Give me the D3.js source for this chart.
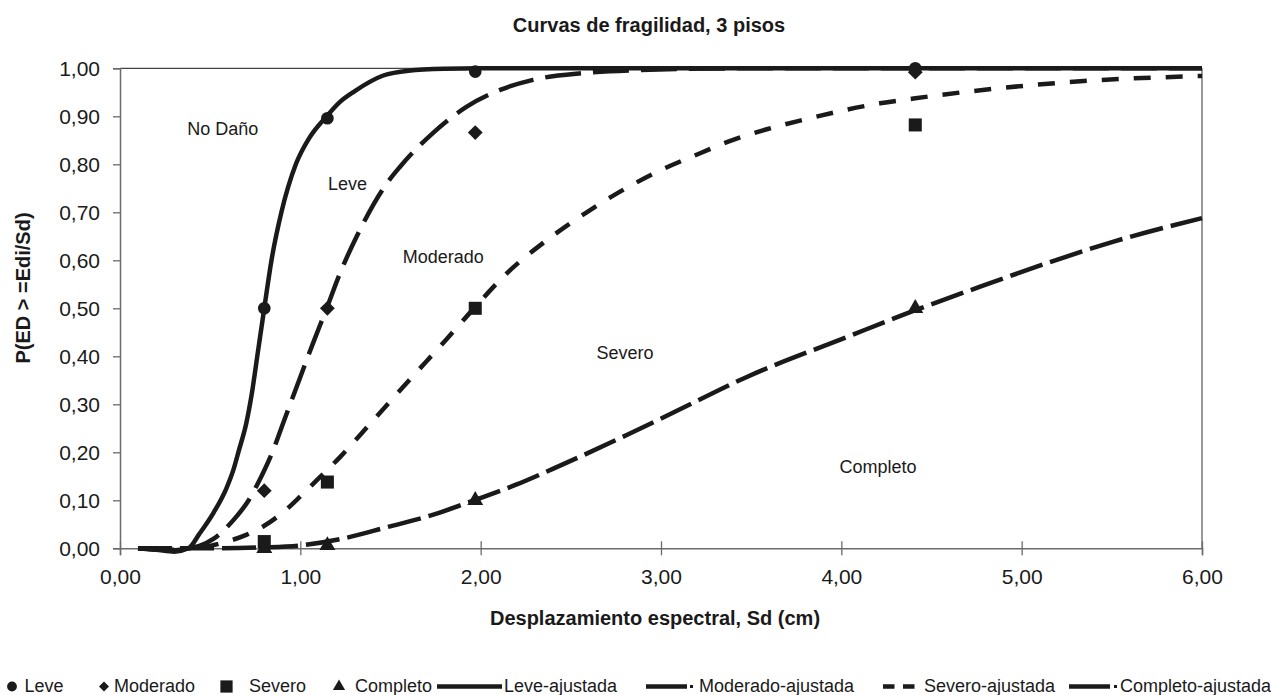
<!DOCTYPE html>
<html><head><meta charset="utf-8">
<script src="https://cdn.jsdelivr.net/npm/d3@7"></script>
<style>
body{margin:0;background:#fff}
svg{display:block}
text{font-family:"Liberation Sans",Arial,Helvetica,sans-serif;fill:#1a1a1a}
</style>
</head><body>
<svg id="chart" width="1271" height="695"></svg>
<script>
// ---------- data ----------
const chartTitle = "Curvas de fragilidad, 3 pisos";
const xTitle = "Desplazamiento espectral, Sd (cm)";
const yTitle = "P(ED > =Edi/Sd)";
const xTickValues = [0, 1, 2, 3, 4, 5, 6];
const yTickValues = [0, 0.1, 0.2, 0.3, 0.4, 0.5, 0.6, 0.7, 0.8, 0.9, 1.0];

// observed points (Sd, P)
const sdObs = [0.80, 1.15, 1.97, 4.41];
const leveObs = [0.50, 0.896, 0.993, 1.00];
const moderadoObs = [0.12, 0.50, 0.866, 0.992];
const severoObs = [0.014, 0.138, 0.50, 0.882];
const completoObs = [0.00, 0.006, 0.10, 0.50];

// fitted curves: [Sd, P]
const leveFit = [[0.10,0.000],[0.20,-0.003],[0.30,-0.007],[0.38,0.000],[0.44,0.030],[0.52,0.075],[0.59,0.125],[0.63,0.165],[0.66,0.205],[0.70,0.260],[0.73,0.320],[0.765,0.410],[0.80,0.500],[0.84,0.600],[0.895,0.700],[0.975,0.800],[1.05,0.855],[1.146,0.900],[1.22,0.930],[1.30,0.952],[1.46,0.985],[1.60,0.995],[1.80,0.999],[2.00,1.000],[6.00,1.000]];
const moderadoFit = [[0.10,0.000],[0.30,-0.003],[0.38,0.000],[0.44,0.005],[0.52,0.020],[0.59,0.043],[0.65,0.068],[0.71,0.098],[0.76,0.132],[0.85,0.205],[0.906,0.262],[1.00,0.357],[1.07,0.427],[1.146,0.500],[1.22,0.573],[1.313,0.650],[1.479,0.760],[1.553,0.795],[1.738,0.866],[1.923,0.920],[2.108,0.955],[2.29,0.976],[2.57,0.990],[2.85,0.996],[3.50,1.000],[6.00,1.000]];
const severoFit = [[0.10,0.000],[0.30,-0.004],[0.38,0.000],[0.50,0.005],[0.573,0.012],[0.70,0.028],[0.80,0.047],[0.92,0.080],[1.00,0.108],[1.10,0.145],[1.22,0.190],[1.405,0.267],[1.608,0.352],[1.812,0.436],[1.963,0.500],[2.145,0.573],[2.367,0.642],[2.588,0.700],[2.773,0.743],[3.00,0.788],[3.217,0.823],[3.40,0.851],[3.587,0.873],[3.76,0.890],[4.215,0.927],[4.40,0.937],[4.862,0.958],[5.325,0.973],[6.00,0.984]];
const completoFit = [[0.10,0.000],[0.50,0.000],[0.80,0.002],[1.00,0.006],[1.22,0.019],[1.48,0.044],[1.738,0.070],[1.963,0.100],[2.20,0.133],[2.403,0.166],[2.81,0.236],[3.032,0.276],[3.476,0.357],[4.03,0.440],[4.41,0.496],[4.77,0.545],[5.14,0.594],[5.51,0.639],[6.00,0.688]];

// region annotations (label, anchor Sd, anchor P)
const regionNames = ["No Daño", "Leve", "Moderado", "Severo", "Completo"];
const regionSd = [0.57, 1.262, 1.793, 2.801, 4.204];
const regionP = [0.861, 0.746, 0.595, 0.394, 0.156];

const legendNames = ["Leve", "Moderado", "Severo", "Completo", "Leve-ajustada", "Moderado-ajustada", "Severo-ajustada", "Completo-ajustada"];

// ---------- layout ----------
const svg = d3.select("#chart");
const L = 120, R = 1202, T = 68.3, B = 548.3;
const x = d3.scaleLinear().domain([0, 6]).range([L, R]);
const y = d3.scaleLinear().domain([0, 1]).range([B, T]);
const ink = "#1a1a1a";
const axisCol = "#6b6b6b";
const fmt = v => d3.format(".2f")(v).replace(".", ",");

// frame top & right
svg.append("line").attr("x1", L).attr("x2", R).attr("y1", T).attr("y2", T).attr("stroke", "#444").attr("stroke-width", 1.2);
svg.append("line").attr("x1", R).attr("x2", R).attr("y1", T).attr("y2", B).attr("stroke", "#555").attr("stroke-width", 1.2);

// axes
const gx = svg.append("g").attr("transform", `translate(0,${B})`)
  .call(d3.axisBottom(x).tickValues(xTickValues).tickFormat(fmt).tickSize(7).tickPadding(14));
gx.selectAll(".tick line").attr("y1", -7).attr("y2", 7);
const gy = svg.append("g").attr("transform", `translate(${L},0)`)
  .call(d3.axisLeft(y).tickValues(yTickValues).tickFormat(fmt).tickSize(7).tickPadding(13));
[gx, gy].forEach(g => {
  g.select(".domain").attr("stroke", axisCol).attr("stroke-width", 1.5);
  g.selectAll(".tick line").attr("stroke", axisCol).attr("stroke-width", 1.3);
  g.selectAll(".tick text").attr("font-size", 21).attr("fill", ink)
    .attr("font-family", '"Liberation Sans",Arial,sans-serif');
});

// titles
svg.append("text").attr("x", 649).attr("y", 31.7).attr("text-anchor", "middle")
  .attr("font-size", 20).attr("font-weight", "bold").text(chartTitle);
svg.append("text").attr("x", 655).attr("y", 625).attr("text-anchor", "middle")
  .attr("font-size", 20).attr("font-weight", "bold").text(xTitle);
svg.append("text").attr("transform", `translate(30,288) rotate(-90)`).attr("text-anchor", "middle")
  .attr("font-size", 20).attr("font-weight", "bold").text(yTitle);

// region labels
regionNames.forEach((n, i) => {
  svg.append("text").attr("x", x(regionSd[i])).attr("y", y(regionP[i]))
    .attr("text-anchor", "middle").attr("font-size", 18).text(n);
});

// fitted curves
const line = d3.line().x(d => x(d[0])).y(d => y(d[1])).curve(d3.curveMonotoneX);
const fits = [
  {data: completoFit, dash: "34,8"},
  {data: severoFit, dash: "17,15"},
  {data: moderadoFit, dash: "36,12"},
  {data: leveFit, dash: null}
];
fits.forEach(f => {
  svg.append("path").attr("d", line(f.data)).attr("fill", "none").attr("stroke", ink)
    .attr("stroke-width", 4.5).attr("stroke-dasharray", f.dash);
});

// observed markers
const sym = {
  circle: d3.symbol().type(d3.symbolCircle).size(125),
  diamond: d3.symbol().type(d3.symbolSquare).size(110),
  square: d3.symbol().type(d3.symbolSquare).size(170),
  triangle: d3.symbol().type(d3.symbolTriangle).size(110)
};
const obsSeries = [
  {vals: leveObs, s: "circle", rot: 0},
  {vals: moderadoObs, s: "diamond", rot: 45},
  {vals: severoObs, s: "square", rot: 0},
  {vals: completoObs, s: "triangle", rot: 0}
];
obsSeries.forEach(o => {
  svg.append("g").selectAll("path").data(o.vals).join("path")
    .attr("d", sym[o.s]())
    .attr("transform", (v, i) => `translate(${x(sdObs[i])},${y(v)}) rotate(${o.rot})`)
    .attr("fill", ink);
});

// legend
const lg = svg.append("g");
const ly = 686.5, tb = 692;
const legSym = {
  circle: d3.symbol().type(d3.symbolCircle).size(75),
  diamond: d3.symbol().type(d3.symbolSquare).size(50),
  square: d3.symbol().type(d3.symbolSquare).size(150),
  triangle: d3.symbol().type(d3.symbolTriangle).size(65)
};
const markerItems = [
  {s: "circle", mx: 12, tx: 24.5, rot: 0},
  {s: "diamond", mx: 104, tx: 114, rot: 45},
  {s: "square", mx: 226.5, tx: 249, rot: 0},
  {s: "triangle", mx: 339, tx: 355, rot: 0}
];
markerItems.forEach((m, i) => {
  lg.append("path").attr("d", legSym[m.s]()).attr("fill", ink)
    .attr("transform", `translate(${m.mx},${ly}) rotate(${m.rot})`);
  lg.append("text").attr("x", m.tx).attr("y", tb).attr("font-size", 18).text(legendNames[i]);
});
// line items
lg.append("line").attr("x1", 437).attr("x2", 502).attr("y1", ly).attr("y2", ly).attr("stroke", ink).attr("stroke-width", 4.5);
lg.append("text").attr("x", 504).attr("y", tb).attr("font-size", 18).text(legendNames[4]);

lg.append("line").attr("x1", 646).attr("x2", 687).attr("y1", ly).attr("y2", ly).attr("stroke", ink).attr("stroke-width", 4.5);
lg.append("rect").attr("x", 690).attr("y", ly - 1.5).attr("width", 3).attr("height", 3).attr("fill", ink);
lg.append("text").attr("x", 699).attr("y", tb).attr("font-size", 18).text(legendNames[5]);

lg.append("line").attr("x1", 883).attr("x2", 915).attr("y1", ly).attr("y2", ly).attr("stroke", ink).attr("stroke-width", 4.5).attr("stroke-dasharray", "11.5,8.5");
lg.append("text").attr("x", 924).attr("y", tb).attr("font-size", 18).text(legendNames[6]);

lg.append("line").attr("x1", 1069).attr("x2", 1110).attr("y1", ly).attr("y2", ly).attr("stroke", ink).attr("stroke-width", 4.5);
lg.append("rect").attr("x", 1114).attr("y", ly - 1.5).attr("width", 3).attr("height", 3).attr("fill", ink);
lg.append("text").attr("x", 1120).attr("y", tb).attr("font-size", 18).text(legendNames[7]);
</script>
</body></html>
